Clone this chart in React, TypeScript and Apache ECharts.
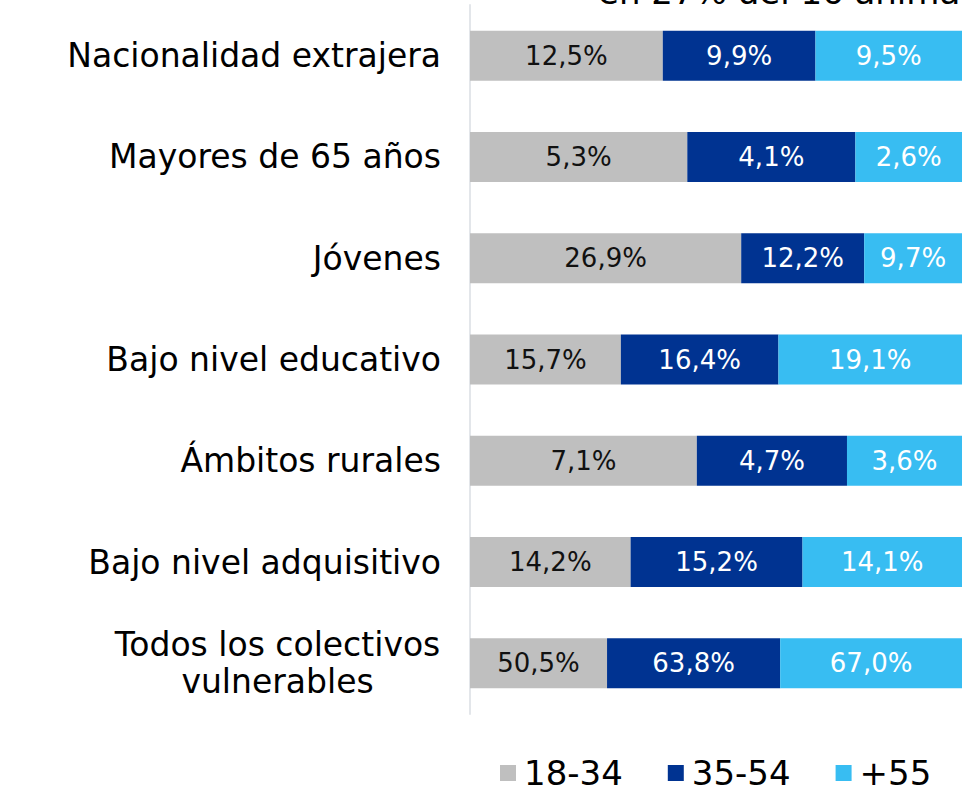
import React, { useEffect, useRef } from "react";
import * as echarts from "echarts";

const categories = [
  "Nacionalidad extrajera",
  "Mayores de 65 años",
  "Jóvenes",
  "Bajo nivel educativo",
  "Ámbitos rurales",
  "Bajo nivel adquisitivo",
  "Todos los colectivos\nvulnerables",
];
const seriesNames = ["18-34", "35-54", "+55"];
const v1834 = [12.5, 5.3, 26.9, 15.7, 7.1, 14.2, 50.5];
const v3554 = [9.9, 4.1, 12.2, 16.4, 4.7, 15.2, 63.8];
const v55 = [9.5, 2.6, 9.7, 19.1, 3.6, 14.1, 67.0];
const colors = ["#BFBFBF", "#003391", "#38BDF2"];
const labelColors = ["#111111", "#FFFFFF", "#FFFFFF"];

const FONT = "'DejaVu Sans', 'Noto Sans', sans-serif";

export default function App() {
  const ref = useRef<HTMLDivElement>(null);
  useEffect(() => {
    if (!ref.current) return;
    const chart = echarts.init(ref.current, null, { renderer: "svg" });
    const raw = [v1834, v3554, v55];
    const totals = categories.map((_, i) => raw[0][i] + raw[1][i] + raw[2][i]);
    const series = raw.map((vals, s) => ({
      name: seriesNames[s],
      type: "bar",
      stack: "total",
      barWidth: 50,
      itemStyle: { color: colors[s] },
      label: {
        show: true,
        position: "inside",
        color: labelColors[s],
        fontFamily: FONT,
        fontSize: 26,
        formatter: (p: any) => vals[p.dataIndex].toFixed(1).replace(".", ",") + "%",
      },
      data: vals.map((v, i) => (v / totals[i]) * 100),
    }));
    chart.setOption({
      animation: false,
      grid: { left: 470, right: 15, top: 5, height: 709, containLabel: false },
      xAxis: { type: "value", min: 0, max: 100, show: false },
      yAxis: {
        type: "category",
        inverse: true,
        data: categories,
        axisLine: { show: true, lineStyle: { color: "#E3E6EA", width: 2 } },
        axisTick: { show: false },
        axisLabel: {
          color: "#000",
          fontFamily: FONT,
          fontSize: 33,
          margin: 29,
          lineHeight: 37,
          align: "right",
          formatter: (v: string) =>
            v.indexOf("\n") >= 0
              ? v
                  .split("\n")
                  .map((l) => "{c|" + l + "}")
                  .join("\n")
              : v,
          rich: {
            c: {
              width: 327,
              align: "center",
              fontFamily: FONT,
              fontSize: 33,
              lineHeight: 37,
              color: "#000",
            },
          },
        },
      },
      legend: {
        top: 751,
        left: 495,
        itemWidth: 16,
        itemHeight: 16,
        itemGap: 45,
        icon: "rect",
        textStyle: { fontFamily: FONT, fontSize: 34, color: "#000", padding: [0, 0, 0, 3] },
        data: seriesNames,
      },
      graphic: [
        {
          type: "text",
          left: 598,
          top: -25,
          style: { text: "en 27% del 16 anima", fontFamily: FONT, fontSize: 34, fill: "#000" },
        },
      ],
      series,
    });
    return () => chart.dispose();
  }, []);
  return (
    <div
      ref={ref}
      style={{ position: "absolute", left: 0, top: 0, width: 977, height: 793 }}
    />
  );
}
